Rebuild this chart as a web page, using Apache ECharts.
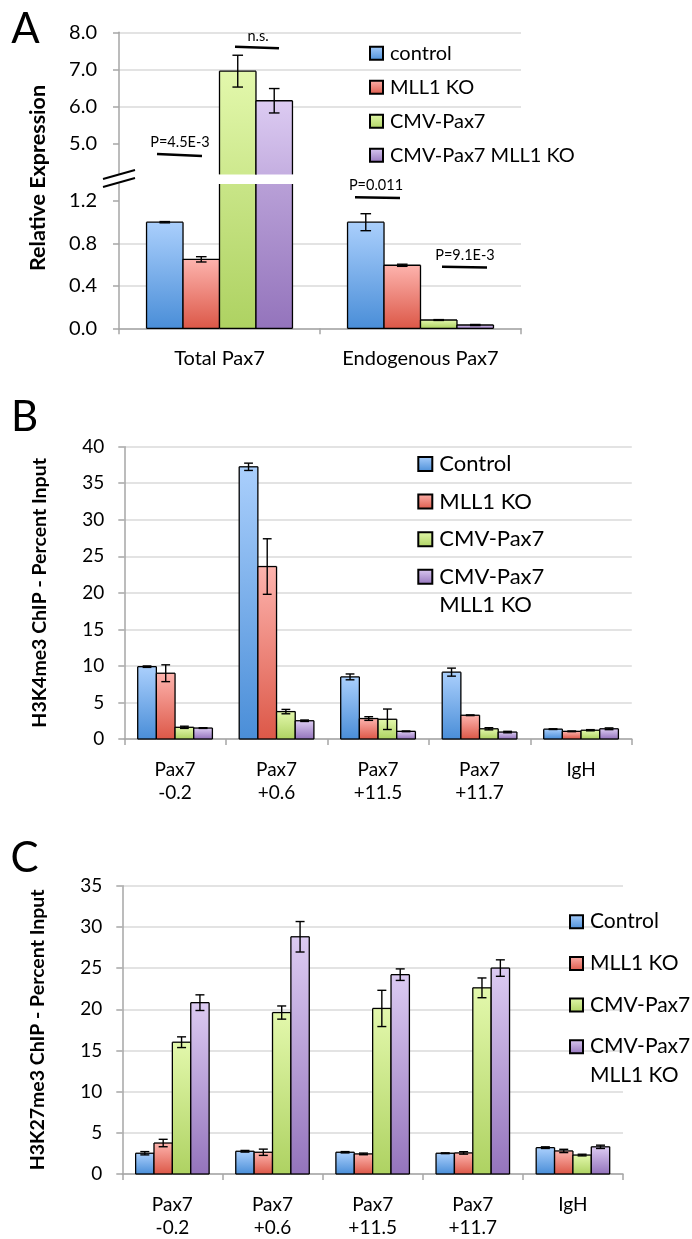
<!DOCTYPE html>
<html><head><meta charset="utf-8">
<script src="https://cdn.jsdelivr.net/npm/echarts@6/dist/echarts.min.js"></script>
<style>html,body{margin:0;padding:0;background:#fff}#c{width:692px;height:1239px}</style>
</head><body><div id="c"></div>
<script>
// ---------------- data ----------------
const namesA = ['control', 'MLL1 KO', 'CMV-Pax7', 'CMV-Pax7 MLL1 KO'];
const namesBC = ['Control', 'MLL1 KO', 'CMV-Pax7', 'CMV-Pax7 MLL1 KO'];

// Panel A (Relative Expression, broken axis)
const catsA = ['Total Pax7', 'Endogenous Pax7'];
const aControl = [1.0, 1.0],      aControlErr = [0.006, 0.08];
const aMLL1 = [0.65, 0.594],      aMLL1Err = [0.025, 0.01];
const aCMV = [6.95, 0.078],       aCMVErr = [0.43, 0.004];
const aCMVMLL1 = [6.15, 0.031],   aCMVMLL1Err = [0.33, 0.005];
const aUpperRange = [4, 8];       // upper segment axis
const aUpperBreak = 4.16;         // upper segment cut
const aLowerRange = [0, 1.36];    // lower segment axis
const aUpperTicks = [5, 6, 7, 8];
const aLowerTicks = [0, 0.4, 0.8, 1.2];

// Panel B (H3K4me3)
const catsB = ['Pax7\n-0.2', 'Pax7\n+0.6', 'Pax7\n+11.5', 'Pax7\n+11.7', 'IgH'];
const bControl = [9.9, 37.25, 8.5, 9.15, 1.35],  bControlErr = [0.1, 0.5, 0.4, 0.55, 0.05];
const bMLL1 = [9.0, 23.6, 2.8, 3.25, 1.05],      bMLL1Err = [1.15, 3.8, 0.25, 0.05, 0.05];
const bCMV = [1.6, 3.75, 2.7, 1.4, 1.2],          bCMVErr = [0.15, 0.3, 1.4, 0.15, 0.08];
const bCMVMLL1 = [1.5, 2.5, 1.05, 0.95, 1.4],     bCMVMLL1Err = [0.05, 0.1, 0.05, 0.1, 0.12];
const bRange = [0, 40];

// Panel C (H3K27me3)
const catsC = ['Pax7\n-0.2', 'Pax7\n+0.6', 'Pax7\n+11.5', 'Pax7\n+11.7', 'IgH'];
const cControl = [2.52, 2.76, 2.64, 2.52, 3.2],   cControlErr = [0.2, 0.1, 0.08, 0.05, 0.1];
const cMLL1 = [3.76, 2.64, 2.44, 2.56, 2.8],      cMLL1Err = [0.45, 0.38, 0.1, 0.15, 0.2];
const cCMV = [16.0, 19.6, 20.1, 22.6, 2.3],       cCMVErr = [0.65, 0.8, 2.2, 1.2, 0.1];
const cCMVMLL1 = [20.8, 28.8, 24.2, 25.0, 3.3],   cCMVMLL1Err = [0.95, 1.85, 0.7, 1.0, 0.2];
const cRange = [0, 35];

// ---------------- styling ----------------
const FONT = 'Lato';
const AX = '#a6a6a6';
const GR = '#dadada';
const PAL = [
  ['#aacffc', '#4a8ed8'],
  ['#fdb3ad', '#dc5848'],
  ['#e3f8ac', '#aed262'],
  ['#dccbf2', '#9474bc']
];
function grad(p) {
  return {type: 'linear', x: 0, y: 0, x2: 0, y2: 1,
    colorStops: [{offset: 0, color: p[0]}, {offset: 1, color: p[1]}]};
}

function barSeries(name, k, vals, errs, xi, yi, cfg) {
  const pal = PAL[k];
  return {
    type: 'custom', name: name, xAxisIndex: xi, yAxisIndex: yi, z: 3,
    itemStyle: {color: grad(pal), borderColor: '#000', borderWidth: 1.3},
    encode: {x: 0, y: 1},
    data: vals.map((v, i) => [i, v, errs[i]]),
    renderItem: function (params, api) {
      const cat = api.value(0), v = api.value(1), e = api.value(2);
      const cs = params.coordSys;
      const band = api.size([1, 0])[0];
      const bw = band * (1 - cfg.gap) / 4;
      const base = api.coord([cat, 0]);
      const x0 = base[0] + (k - 2) * bw;
      const yV = api.coord([cat, v])[1];
      const yB = base[1];
      const cTop = cs.y;
      const cBot = cfg.clipBot != null ? api.coord([cat, cfg.clipBot])[1] : cs.y + cs.height;
      const top = Math.max(yV, cTop), bot = Math.min(yB, cBot);
      const ch = [];
      const st = {stroke: '#000', lineWidth: 1.3};
      if (bot > top) {
        let gTop = yV;
        if (yV < cTop) gTop = cTop - (bot - top);
        ch.push({type: 'rect', shape: {x: x0, y: top, width: bw, height: bot - top},
          style: {fill: {type: 'linear', x: 0, y: gTop, x2: 0, y2: yB, global: true,
            colorStops: [{offset: 0, color: pal[0]}, {offset: 1, color: pal[1]}]}}});
        ch.push({type: 'line', shape: {x1: x0, y1: top, x2: x0, y2: bot}, style: st});
        ch.push({type: 'line', shape: {x1: x0 + bw, y1: top, x2: x0 + bw, y2: bot}, style: st});
        if (yV >= cTop - 0.5) ch.push({type: 'line', shape: {x1: x0, y1: top, x2: x0 + bw, y2: top}, style: st});
        if (yB <= cBot + 0.5) ch.push({type: 'line', shape: {x1: x0, y1: bot, x2: x0 + bw, y2: bot}, style: st});
      }
      if (e > 0 && yV >= cTop - 0.5 && yV <= cBot + 0.5) {
        const cx = x0 + bw / 2;
        const y1 = api.coord([cat, v + e])[1], y2 = api.coord([cat, v - e])[1];
        const es = {stroke: '#000', lineWidth: 1.4};
        ch.push({type: 'line', shape: {x1: cx, y1: y1, x2: cx, y2: y2}, style: es, z2: 5});
        ch.push({type: 'line', shape: {x1: cx - cfg.cap, y1: y1, x2: cx + cfg.cap, y2: y1}, style: es, z2: 5});
        ch.push({type: 'line', shape: {x1: cx - cfg.cap, y1: y2, x2: cx + cfg.cap, y2: y2}, style: es, z2: 5});
      }
      return {type: 'group', children: ch};
    }
  };
}

const axLine = {show: true, lineStyle: {color: AX, width: 1.5}};
const axTick = {show: true, length: 6, lineStyle: {color: AX, width: 1.5}};
const split = {show: true, lineStyle: {color: GR, width: 1.5}};

function catAxis(grid, data, margin, lh, fs, show) {
  return {
    gridIndex: grid, type: 'category', data: data, show: show !== false,
    axisLine: axLine, axisTick: axTick,
    axisLabel: {interval: 0, hideOverlap: false, fontFamily: FONT, fontSize: fs, color: '#000', margin: margin, lineHeight: lh}
  };
}

const cfgAU = {gap: 0.274, cap: 5.3, clipBot: aUpperBreak};
const cfgAL = {gap: 0.274, cap: 5.3};
const cfgB = {gap: 0.264, cap: 4.4};
const cfgC = {gap: 0.266, cap: 4.5};

const aSets = [[aControl, aControlErr], [aMLL1, aMLL1Err], [aCMV, aCMVErr], [aCMVMLL1, aCMVMLL1Err]];
const bSets = [[bControl, bControlErr], [bMLL1, bMLL1Err], [bCMV, bCMVErr], [bCMVMLL1, bCMVMLL1Err]];
const cSets = [[cControl, cControlErr], [cMLL1, cMLL1Err], [cCMV, cCMVErr], [cCMVMLL1, cCMVMLL1Err]];

const series = [];
aSets.forEach((s, k) => series.push(barSeries(namesA[k], k, s[0], s[1], 0, 0, cfgAU)));
aSets.forEach((s, k) => series.push(barSeries(namesA[k], k, s[0], s[1], 1, 1, cfgAL)));
bSets.forEach((s, k) => series.push(barSeries(namesBC[k], k, s[0], s[1], 2, 2, cfgB)));
cSets.forEach((s, k) => series.push(barSeries(namesBC[k], k, s[0], s[1], 3, 3, cfgC)));

function legend(data, left, top, size, gap, fs, two) {
  const l = {
    data: data, orient: 'vertical', left: left, top: top, padding: 0,
    itemWidth: size, itemHeight: size, itemGap: gap, icon: 'rect', selectedMode: false,
    textStyle: {fontFamily: FONT, fontSize: fs, color: '#000', padding: [0, 0, 0, 2]}
  };
  if (two) {
    l.formatter = function () { return '\nCMV-Pax7\nMLL1 KO'; };
    l.textStyle.lineHeight = 28.5;
  }
  return l;
}

const graphics = [
  {type: 'text', x: 25.5, y: 29, style: {text: 'A', font: '42px Lato', fill: '#000', align: 'center', verticalAlign: 'middle'}},
  {type: 'text', x: 24.5, y: 417, style: {text: 'B', font: '42px Lato', fill: '#000', align: 'center', verticalAlign: 'middle'}},
  {type: 'text', x: 24.5, y: 858, style: {text: 'C', font: '42px Lato', fill: '#000', align: 'center', verticalAlign: 'middle'}},
  {type: 'text', x: 38.5, y: 178, rotation: Math.PI / 2,
    style: {text: 'Relative Expression', font: 'bold 21.5px Lato', fill: '#000', align: 'center', verticalAlign: 'middle'}},
  // axis break marks
  {type: 'polygon', z: 50, shape: {points: [[103, 179], [135, 170], [135, 178], [103, 187]]}, style: {fill: '#fff'}},
  {type: 'line', z: 51, shape: {x1: 103, y1: 179, x2: 135, y2: 170}, style: {stroke: '#000', lineWidth: 2}},
  {type: 'line', z: 51, shape: {x1: 103, y1: 187, x2: 135, y2: 178}, style: {stroke: '#000', lineWidth: 2}},
  // significance annotations
  {type: 'line', z: 51, shape: {x1: 157, y1: 154, x2: 202, y2: 156}, style: {stroke: '#000', lineWidth: 2.5}},
  {type: 'text', z: 51, x: 180, y: 142, style: {text: 'P=4.5E-3', font: '14.5px Lato', fill: '#000', align: 'center', verticalAlign: 'middle'}},
  {type: 'line', z: 51, shape: {x1: 235, y1: 46.8, x2: 279, y2: 48.3}, style: {stroke: '#000', lineWidth: 2.5}},
  {type: 'text', z: 51, x: 258, y: 36, style: {text: 'n.s.', font: '14.5px Lato', fill: '#000', align: 'center', verticalAlign: 'middle'}},
  {type: 'line', z: 51, shape: {x1: 355, y1: 197.3, x2: 400, y2: 198}, style: {stroke: '#000', lineWidth: 2.5}},
  {type: 'text', z: 51, x: 376, y: 185.5, style: {text: 'P=0.011', font: '14.5px Lato', fill: '#000', align: 'center', verticalAlign: 'middle'}},
  {type: 'line', z: 51, shape: {x1: 442, y1: 266.8, x2: 487, y2: 267.6}, style: {stroke: '#000', lineWidth: 2.5}},
  {type: 'text', z: 51, x: 465, y: 255, style: {text: 'P=9.1E-3', font: '14.5px Lato', fill: '#000', align: 'center', verticalAlign: 'middle'}}
];

const option = {
  animation: false,
  backgroundColor: '#fff',
  textStyle: {fontFamily: FONT},
  grid: [
    {left: 119, top: 32.3, width: 402, height: 148},
    {left: 119, top: 184, width: 402, height: 144.3},
    {left: 124.3, top: 446.7, width: 507.5, height: 292.3},
    {left: 122.3, top: 885.7, width: 500.7, height: 292}
  ],
  xAxis: [
    catAxis(0, catsA, 20, null, 20, false),
    catAxis(1, catsA, 20, null, 20),
    catAxis(2, catsB, 19.5, 23, 19),
    catAxis(3, catsC, 19, 23, 19)
  ],
  yAxis: [
    {gridIndex: 0, type: 'value', min: aUpperRange[0], max: aUpperRange[1], interval: 1,
      axisLine: axLine, axisTick: Object.assign({customValues: aUpperTicks}, axTick),
      axisLabel: {customValues: aUpperTicks, fontFamily: FONT, fontSize: 20, color: '#000', margin: 22,
        formatter: v => (v < 4.5 ? '' : v.toFixed(1))},
      splitLine: Object.assign({showMinLine: false}, split)},
    {gridIndex: 1, type: 'value', min: aLowerRange[0], max: aLowerRange[1], interval: 0.4,
      axisLine: axLine, axisTick: Object.assign({customValues: aLowerTicks}, axTick),
      axisLabel: {customValues: aLowerTicks, fontFamily: FONT, fontSize: 20, color: '#000', margin: 22,
        formatter: v => (v > 1.3 ? '' : v.toFixed(1))},
      splitLine: Object.assign({showMaxLine: false}, split)},
    {gridIndex: 2, type: 'value', min: bRange[0], max: bRange[1], interval: 5,
      axisLine: axLine, axisTick: axTick,
      axisLabel: {fontFamily: FONT, fontSize: 19, color: '#000', margin: 20},
      splitLine: split,
      name: 'H3K4me3 ChIP - Percent Input', nameLocation: 'middle', nameGap: 75,
      nameTextStyle: {fontFamily: FONT, fontWeight: 'bold', fontSize: 19.5, color: '#000'}},
    {gridIndex: 3, type: 'value', min: cRange[0], max: cRange[1], interval: 5,
      axisLine: axLine, axisTick: axTick,
      axisLabel: {fontFamily: FONT, fontSize: 19, color: '#000', margin: 20},
      splitLine: split,
      name: 'H3K27me3 ChIP - Percent Input', nameLocation: 'middle', nameGap: 75,
      nameTextStyle: {fontFamily: FONT, fontWeight: 'bold', fontSize: 19.5, color: '#000'}}
  ],
  legend: [
    legend(namesA, 369, 43.3, 13, 14, 20, false),
    legend(namesBC.slice(0, 3), 417.3, 453, 14, 15.6, 22, false),
    legend([namesBC[3]], 417.3, 576.7 - 42.75, 14, 0, 22, true),
    legend(namesBC.slice(0, 3), 569, 911.2, 13, 20.7, 21, false),
    legend([namesBC[3]], 569, 1046.7 - 42.75, 13, 0, 21, true)
  ],
  graphic: graphics,
  series: series
};

const chart = echarts.init(document.getElementById('c'), null, {renderer: 'canvas'});
chart.setOption(option);
</script>
</body></html>
